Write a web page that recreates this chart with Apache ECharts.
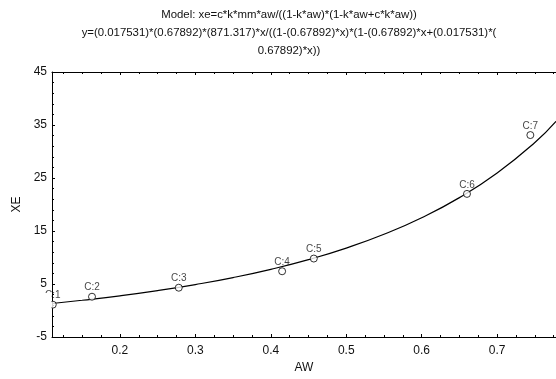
<!DOCTYPE html>
<html>
<head>
<meta charset="utf-8">
<script src="https://cdn.jsdelivr.net/npm/echarts@6/dist/echarts.min.js"></script>
<style>
  html, body { margin: 0; padding: 0; background: #fff; }
  #chart { width: 556px; height: 379px; }
</style>
</head>
<body>
<div id="chart"></div>
<script>
// observed points (AW, XE)
const pointNames = ['C:1', 'C:2', 'C:3', 'C:4', 'C:5', 'C:6', 'C:7']
const pointAW = [0.111, 0.163, 0.278, 0.415, 0.457, 0.660, 0.744]
const pointXE = [1.1, 2.6, 4.3, 7.4, 9.8, 22.0, 33.1]

// fitted curve
const curveAW = [0.11, 0.15, 0.2, 0.25, 0.3, 0.35, 0.4, 0.45, 0.5, 0.55, 0.6, 0.65, 0.7, 0.75, 0.778]
const curveXE = [1.32, 1.93, 2.77, 3.75, 4.89, 6.21, 7.77, 9.60, 11.78, 14.38, 17.51, 21.30, 25.95, 31.71, 35.7]

const yTicks = [-5, 5, 15, 25, 35, 45]

const titleText = 'Model: xe=c*k*mm*aw/((1-k*aw)*(1-k*aw+c*k*aw))\n' +
  'y=(0.017531)*(0.67892)*(871.317)*x/((1-(0.67892)*x)*(1-(0.67892)*x+(0.017531)*(\n' +
  '0.67892)*x))'

const chart = echarts.init(document.getElementById('chart'))

const font = 'Liberation Sans, Arial, sans-serif'

// shared look of both horizontal axes (no fixed interval: ticks land on 0.1 steps)
const xBase = {
  type: 'value',
  min: 0.11,
  max: 0.778,
  splitNumber: 5,
  axisLine: { show: true, onZero: false, lineStyle: { color: '#000', width: 1 } },
  axisTick: { show: true, inside: true, length: 3, lineStyle: { color: '#000' } },
  minorTick: { show: true, splitNumber: 4, length: 2, lineStyle: { color: '#000' } },
  splitLine: { show: false }
}

chart.setOption({
  animation: false,
  backgroundColor: '#fff',
  title: {
    text: titleText,
    left: 284,
    top: 1,
    textAlign: 'center',
    textStyle: { fontFamily: font, fontSize: 11.4, fontWeight: 'normal', color: '#111', lineHeight: 18 }
  },
  grid: { left: 52, right: 0, top: 72, bottom: 37 },
  xAxis: [Object.assign({}, xBase, {
    name: 'AW',
    nameLocation: 'middle',
    nameGap: 25,
    nameTextStyle: { fontFamily: font, fontSize: 12, color: '#111' },
    axisLabel: {
      fontFamily: font, fontSize: 12, color: '#111', margin: 8,
      showMinLabel: false, showMaxLabel: false
    }
  }), Object.assign({}, xBase, {
    position: 'top',
    axisLabel: { show: false }
  })],
  yAxis: {
    type: 'value',
    min: yTicks[0],
    max: yTicks[yTicks.length - 1],
    interval: 10,
    name: 'XE',
    nameLocation: 'middle',
    nameGap: 28,
    nameRotate: 90,
    nameTextStyle: { fontFamily: font, fontSize: 12, color: '#111' },
    axisLine: { show: true, onZero: false, lineStyle: { color: '#000', width: 1 } },
    axisTick: { show: true, inside: true, length: 3, lineStyle: { color: '#000' } },
    minorTick: { show: true, splitNumber: 5, length: 2, lineStyle: { color: '#000' } },
    axisLabel: { fontFamily: font, fontSize: 12, color: '#111', margin: 5 },
    splitLine: { show: false }
  },
  series: [{
    type: 'line',
    data: curveAW.map((x, i) => [x, curveXE[i]]),
    smooth: true,
    showSymbol: false,
    lineStyle: { color: '#000', width: 1.2 },
    z: 2
  }, {
    type: 'scatter',
    data: pointAW.map((x, i) => ({ name: pointNames[i], value: [x, pointXE[i]] })),
    symbol: 'circle',
    symbolSize: 7,
    itemStyle: { color: '#fff', borderColor: '#000', borderWidth: 1 },
    label: {
      show: true,
      position: 'top',
      distance: 0,
      formatter: p => p.name,
      fontFamily: font,
      fontSize: 10,
      color: '#111'
    },
    z: 3
  }],
  graphic: [{
    // hides the part of the first point's label outside the plot
    type: 'rect',
    shape: { x: 0, y: 293, width: 51.5, height: 24 },
    style: { fill: '#fff' },
    z: 100
  }]
})
</script>
</body>
</html>
